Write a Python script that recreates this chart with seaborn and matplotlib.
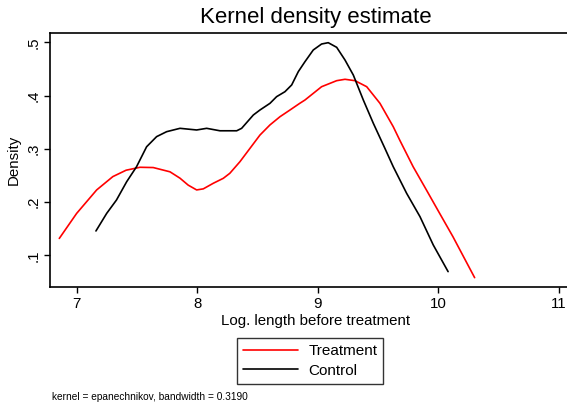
import matplotlib
matplotlib.use("Agg")
import matplotlib.pyplot as plt
import seaborn as sns
import pandas as pd
from matplotlib.lines import Line2D

treat_x = [6.856, 7.0, 7.166, 7.30, 7.41, 7.525, 7.635, 7.774, 7.857, 7.925, 7.995, 8.05, 8.133,
           8.216, 8.27, 8.354, 8.437, 8.52, 8.603, 8.686, 8.769, 8.85, 8.893, 9.031, 9.156,
           9.225, 9.308, 9.405, 9.515, 9.625, 9.68, 9.79, 9.90, 10.01, 10.12, 10.30]
treat_y = [0.132, 0.179, 0.223, 0.248, 0.260, 0.2655, 0.265, 0.257, 0.245, 0.232, 0.223, 0.225,
           0.2355, 0.2448, 0.2542, 0.276, 0.301, 0.326, 0.345, 0.3604, 0.373, 0.3855, 0.3917,
           0.4167, 0.428, 0.4306, 0.428, 0.4167, 0.3855, 0.3417, 0.316, 0.2666, 0.223, 0.179,
           0.1353, 0.0584]

ctrl_x = [7.16, 7.249, 7.33, 7.415, 7.497, 7.58, 7.663, 7.746, 7.857, 7.995, 8.078, 8.188, 8.327,
          8.368, 8.465, 8.52, 8.603, 8.658, 8.727, 8.783, 8.838, 8.893, 8.962, 9.031, 9.086,
          9.156, 9.225, 9.294, 9.377, 9.46, 9.556, 9.625, 9.736, 9.847, 9.957, 10.08]
ctrl_y = [0.146, 0.179, 0.204, 0.2385, 0.2667, 0.304, 0.323, 0.3323, 0.3386, 0.3355, 0.3386,
          0.334, 0.334, 0.3386, 0.3636, 0.373, 0.3855, 0.398, 0.4073, 0.420, 0.445, 0.4636,
          0.4856, 0.4968, 0.4993, 0.4906, 0.4668, 0.4386, 0.3917, 0.348, 0.301, 0.2666, 0.2167,
          0.1728, 0.1197, 0.0697]

x_ticks = [7, 8, 9, 10, 11]
y_ticks = [0.1, 0.2, 0.3, 0.4, 0.5]
y_tick_labels = [".1", ".2", ".3", ".4", ".5"]
series_names = ["Treatment", "Control"]

sns.set_style("ticks")
plt.rcParams['font.family'] = ['Liberation Sans', 'DejaVu Sans']
for k in ["text.color", "axes.labelcolor", "xtick.color", "ytick.color", "axes.edgecolor"]:
    plt.rcParams[k] = "black"

df = pd.concat([
    pd.DataFrame({"x": treat_x, "y": treat_y, "group": series_names[0]}),
    pd.DataFrame({"x": ctrl_x, "y": ctrl_y, "group": series_names[1]}),
])

fig = plt.figure(figsize=(5.67, 4.05), dpi=100)
W, H = 567, 405
left, right, top, bottom = 50, 582, 33.3, 287.3
ax = fig.add_axes([left / W, 1 - bottom / H, (right - left) / W, (bottom - top) / H])

sns.lineplot(data=df, x="x", y="y", hue="group", hue_order=series_names,
             palette={"Treatment": "#ff0000", "Control": "#000000"},
             sort=False, estimator=None, linewidth=1.2, ax=ax, legend=False)

ax.set_xlim(6.779, 6.779 + (right - left) / 120.6)
ax.set_ylim(0.0403, 0.5169)
ax.set_xticks(x_ticks)
ax.set_xticklabels([str(t) for t in x_ticks], fontsize=10.8)
ax.set_yticks(y_ticks)
ax.set_yticklabels(y_tick_labels, fontsize=10.8, rotation=90, va="center")
ax.tick_params(axis="both", direction="out", length=4, width=1.0, colors="black", pad=3)
for s in ax.spines.values():
    s.set_linewidth(1.2)
    s.set_color("black")
    s.set_visible(True)
ax.set_xlabel("Log. length before treatment", fontsize=10.8, labelpad=2)
ax.set_ylabel("Density", fontsize=10.8, labelpad=4)

fig.text(316 / W, 1 - 18 / H, "Kernel density estimate", fontsize=16, ha="center", va="center")

handles = [Line2D([], [], color="#ff0000", lw=1.2), Line2D([], [], color="#000000", lw=1.2)]
leg = fig.legend(handles, series_names, loc="center", bbox_to_anchor=(310 / W, 1 - 361 / H),
                 fontsize=11, frameon=True, fancybox=False, edgecolor="black",
                 handlelength=3.6, handletextpad=0.7, borderpad=0.4, labelspacing=0.35,
                 borderaxespad=0)
leg.get_frame().set_linewidth(1.0)

fig.text(52 / W, 1 - 397 / H, "kernel = epanechnikov, bandwidth = 0.3190", fontsize=7.3,
         ha="left", va="center")

fig.savefig("out.png", dpi=100)
